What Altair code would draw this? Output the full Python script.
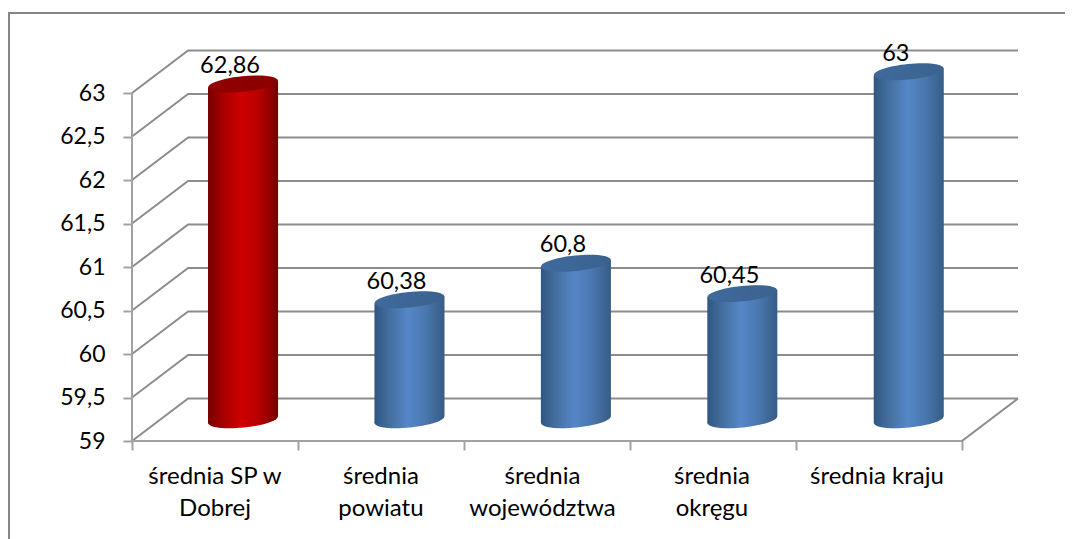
import altair as alt
import pandas as pd

categories = ["średnia SP w\nDobrej", "średnia\npowiatu", "średnia\nwojewództwa", "średnia\nokręgu", "średnia kraju"]
values = [62.86, 60.38, 60.8, 60.45, 63]
value_labels = ["62,86", "60,38", "60,8", "60,45", "63"]
highlight = [True, False, False, False, False]
ticks = [59, 59.5, 60, 60.5, 61, 61.5, 62, 62.5, 63]

FONT = "Lato"
GRID = "#8c8c8c"
AXIS = "#a2a2a2"
DX, DY = 0.338, 0.488          # depth of the 3D box, in axis units
BW, TILT, BASE = 0.422, 0.04, 59.0
BAR_STEP = 1.0027              # cylinders sit slightly wider apart than the ticks
LABEL_NUDGE = [0, 0, -0.027, -0.006, -0.012]
ELLIPSE = "M-0.995,0.1A1,0.222,-5.7,1,0,0.995,-0.1A1,0.222,-5.7,1,0,-0.995,0.1Z"
ESIZE = 4900
XD = [0, 5 + DX]
YD = [59, 59 + 391 / 87]

xs = alt.Scale(domain=XD, nice=False, zero=False)
ys = alt.Scale(domain=YD, nice=False, zero=False)
xaxis = alt.Axis(values=[0, 1, 2, 3, 4, 5], title=None, grid=False, domain=False, labels=False,
                 tickSize=9, tickWidth=2, tickColor=AXIS)
yaxis = alt.Axis(values=ticks, title=None, grid=False, domain=False, tickSize=9, tickWidth=2,
                 tickColor=AXIS, labelFont=FONT, labelFontSize=23, labelColor="#000000",
                 labelPadding=18, labelExpr="replace(format(datum.value,'.1~f'),'.',',')")
x = alt.X("x:Q", scale=xs, axis=xaxis)
y = alt.Y("y:Q", scale=ys, axis=yaxis)

# wall and floor lines
rows = []
for v in ticks:
    for o, (a, b) in enumerate([(0, v), (DX, v + DY), (5 + DX, v + DY)]):
        rows.append(dict(x=a, y=b, g=f"g{v}", o=o))
for o, (a, b) in enumerate([(0, 59), (5, 59), (5 + DX, 59 + DY)]):
    rows.append(dict(x=a, y=b, g="floor", o=o))
walls = alt.Chart(pd.DataFrame(rows)).mark_line(color=GRID, strokeWidth=2).encode(x=x, y=y, detail="g:N", order="o:Q")

axis_df = pd.DataFrame({"x": [0, 0], "y": [59, 63]})
yaxis_line = alt.Chart(axis_df).mark_line(color=AXIS, strokeWidth=2).encode(x=x, y=y)
xaxis_df = pd.DataFrame({"x": [0, 5], "y": [59, 59]})
xaxis_line = alt.Chart(xaxis_df).mark_line(color=AXIS, strokeWidth=2).encode(x=x, y=y)

# cylinders
def grad(stops):
    return alt.Gradient(gradient="linear", x1=0, x2=1, y1=0, y2=0,
                        stops=[alt.GradientStop(offset=o, color=c) for o, c in stops])

RED = grad([(0, "#760000"), (0.22, "#a80000"), (0.48, "#cf0000"), (0.72, "#b80000"), (1, "#780000")])
BLUE = grad([(0, "#2f5683"), (0.22, "#44709f"), (0.48, "#5586c8"), (0.72, "#4a78b0"), (1, "#375c86")])
RED_TOP = grad([(0, "#930000"), (1, "#8a0000")])
BLUE_TOP = grad([(0, "#3f6a9c"), (1, "#3a628f")])

body, centers = [], []
for i, (v, h) in enumerate(zip(values, highlight)):
    c = i * BAR_STEP + 0.5 + DX / 2
    top, base = v + DY / 2, BASE + DY / 2
    centers.append(dict(x=c, y=top, base=base, label=value_labels[i], h=h))
    body.append(dict(x=c - BW / 2, y=top - TILT, y2=base - TILT, b=i, h=h))
    body.append(dict(x=c + BW / 2, y=top + TILT, y2=base + TILT, b=i, h=h))
body = pd.DataFrame(body)
centers = pd.DataFrame(centers)

layers = []
for flag, g, gt in [(True, RED, RED_TOP), (False, BLUE, BLUE_TOP)]:
    bd = body[body.h == flag]
    cd = centers[centers.h == flag]
    layers.append(alt.Chart(cd).mark_point(shape=ELLIPSE, size=ESIZE, filled=True, fill=g, opacity=1).encode(
        x=x, y=alt.Y("base:Q", scale=ys, axis=yaxis)))
    layers.append(alt.Chart(bd).mark_area(fill=g, line=False, interpolate="linear").encode(
        x=x, y=y, y2="y2:Q", detail="b:N"))
    layers.append(alt.Chart(cd).mark_point(shape=ELLIPSE, size=ESIZE, filled=True, fill=gt, opacity=1).encode(x=x, y=y))

labels = alt.Chart(centers).mark_text(font=FONT, fontSize=23.5, color="#000000", dx=-13, dy=-18, baseline="middle", align="center").encode(
    x=x, y=y, text="label:N")

cat_df = pd.DataFrame({"x": [i + 0.5 + n for i, n in enumerate(LABEL_NUDGE)], "y": [59] * 5, "t": categories})
cat_text = alt.Chart(cat_df).mark_text(font=FONT, fontSize=24, color="#000000", lineBreak="\n", lineHeight=32,
                                       baseline="top", align="center", dy=24).encode(x=x, y=y, text="t:N")

frame_top = alt.Chart(pd.DataFrame({"k": [0]})).mark_rule(color="#868686", strokeWidth=2).encode(
    x=alt.value(-124), x2=alt.value(933), y=alt.value(-37))
frame_left = alt.Chart(pd.DataFrame({"k": [0]})).mark_rule(color="#868686", strokeWidth=2).encode(
    x=alt.value(-123), y=alt.value(-37), y2=alt.value(490))

chart = alt.layer(frame_top, frame_left, walls, yaxis_line, xaxis_line, *layers, labels, cat_text).properties(
    width=886, height=391,
    padding={"left": 124, "top": 42, "right": 47, "bottom": 98},
    autosize=alt.AutoSizeParams(type="none"),
    background="#ffffff",
).configure_view(stroke=None)

chart.save("out.html", embed_options={"renderer": "svg", "actions": False})
